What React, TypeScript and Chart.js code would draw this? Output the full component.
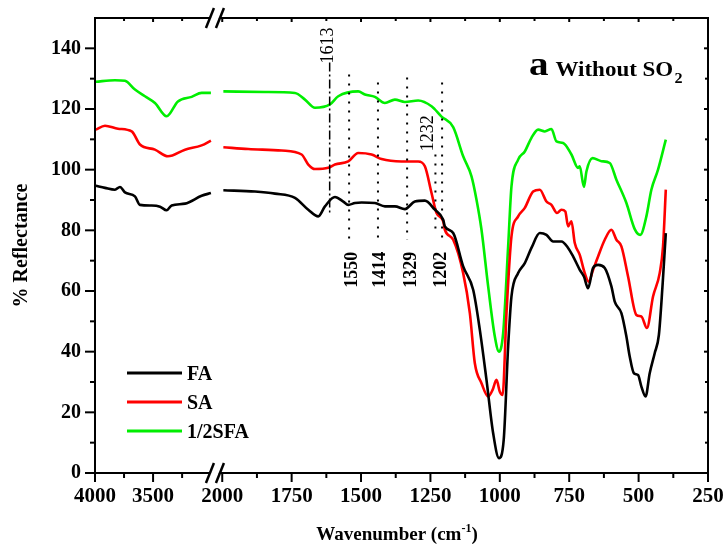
import React, { useEffect, useRef } from 'react';
import { Chart, registerables } from 'chart.js';

Chart.register(...registerables);

// ---------- DATA (wavenumber in cm-1, % reflectance) ----------
const FA_WN = [3994, 3914, 3828, 3785, 3742, 3656, 3613, 3512, 3440, 3383, 3340, 3225, 3082, 3002,
  1996, 1882, 1810, 1738, 1690, 1654, 1630, 1594, 1564, 1546, 1522, 1498, 1450, 1414, 1378, 1342, 1306, 1270, 1234, 1204,
  1198, 1168, 1132, 1096, 1072, 1048, 1024, 1003, 986, 970, 958, 934, 910, 886, 856, 832, 808, 778, 754, 736,
  712, 697, 682, 664, 646, 622, 598, 586, 562, 544, 532, 517, 502, 490, 475, 460, 442, 427, 414, 402];
const FA_R = [94.7, 94.0, 93.4, 94.3, 92.5, 91.2, 88.4, 88.2, 87.8, 86.6, 88.2, 88.8, 91.4, 92.3,
  93.2, 92.8, 92.1, 90.7, 86.8, 84.6, 87.9, 91.0, 89.5, 88.4, 89.0, 89.2, 89.0, 87.9, 87.9, 87.0, 89.5, 89.8, 86.8, 83.5,
  81.3, 79.1, 68.1, 60.4, 47.2, 30.7, 13.1, 4.9, 10.9, 41.7, 58.2, 65.9, 69.2, 74.2, 79.1, 78.5, 76.3, 76.3, 74.2, 71.4,
  67.0, 64.8, 60.9, 67.6, 68.6, 67.6, 61.5, 56.5, 52.7, 45.0, 38.4, 32.9, 32.3, 28.5, 25.2, 32.9, 39.5, 45.5, 61.5, 79.1];

const SA_WN = [3994, 3914, 3802, 3684, 3613, 3484, 3372, 3225, 3082, 3002,
  1996, 1906, 1786, 1714, 1690, 1666, 1618, 1594, 1546, 1510, 1462, 1426, 1354, 1294, 1270, 1246, 1228, 1204, 1198, 1168,
  1132, 1108, 1090, 1066, 1042, 1026, 1012, 1000, 990, 976, 958, 934, 910, 880, 856, 832, 814, 794, 778, 764,
  754, 742, 730, 712, 694, 680, 664, 646, 622, 598, 580, 562, 538, 508, 490, 470, 448, 424, 412, 402];
const SA_R = [113.2, 114.5, 113.5, 112.6, 108.3, 106.6, 104.4, 106.6, 108.0, 109.6,
  107.4, 106.8, 106.3, 105.0, 101.7, 100.2, 100.6, 101.7, 102.7, 105.5, 105.0, 103.5, 102.7, 102.7, 101.1, 92.3, 85.7, 83.0, 80.2, 76.9,
  65.9, 52.7, 36.2, 29.6, 25.2, 27.4, 30.7, 26.8, 25.7, 52.7, 78.0, 84.6, 87.4, 92.8, 93.4, 89.5, 88.4, 85.7, 86.8, 86.2,
  81.3, 83.0, 75.8, 71.9, 65.9, 63.1, 67.0, 71.4, 76.9, 80.2, 76.9, 74.7, 64.8, 52.1, 51.6, 47.8, 58.2, 65.9, 74.7, 93.4];

const SFA_WN = [3994, 3828, 3742, 3656, 3570, 3484, 3383, 3286, 3168, 3082, 3002,
  1996, 1846, 1738, 1702, 1666, 1612, 1582, 1510, 1486, 1450, 1414, 1378, 1342, 1294, 1246, 1210, 1168, 1132, 1102, 1084,
  1066, 1042, 1018, 1003, 988, 970, 958, 934, 910, 886, 862, 838, 814, 796, 772, 742, 718, 712, 697, 688,
  666, 634, 604, 580, 544, 514, 494, 472, 454, 430, 402];
const SFA_R = [129.0, 129.5, 129.3, 126.4, 124.2, 122.0, 117.6, 122.5, 124.0, 125.3, 125.3,
  125.8, 125.6, 125.3, 123.1, 120.4, 121.5, 124.2, 125.8, 124.8, 124.0, 122.0, 123.1, 122.3, 122.8, 120.9, 117.5, 114.0, 104.4, 97.8, 90.1,
  80.2, 61.5, 45.0, 40.0, 46.1, 74.7, 94.5, 103.3, 106.0, 110.5, 113.2, 112.6, 113.4, 109.3, 108.8, 105.0, 100.6, 101.1, 94.3, 99.4,
  103.8, 102.8, 102.2, 96.7, 89.0, 80.4, 78.5, 84.6, 93.4, 100.0, 109.9];

const SERIES_LABELS = ['FA', 'SA', '1/2SFA'];
const SERIES_COLORS = ['#000000', '#ff0000', '#00ee00'];

const X_MAJOR = [4000, 3500, 2000, 1750, 1500, 1250, 1000, 750, 500, 250];
const X_MINOR = [3750, 3250, 1875, 1625, 1375, 1125, 875, 625, 375];
const Y_MAJOR = [0, 20, 40, 60, 80, 100, 120, 140];
const Y_MINOR = [10, 30, 50, 70, 90, 110, 130];

// peak annotations: label, line position (cm-1), line range (%R), label position
const PEAKS = [
  { label: '1613', wn: 1613, y0: 135.3, y1: 85.8, lwn: 1618, ly: 140.9, dash: 'dashdot', bold: false },
  { label: '1550', wn: 1543, y0: 131.4, y1: 76.2, lwn: 1531, ly: 67, dash: 'dot', bold: true },
  { label: '1414', wn: 1439, y0: 128.7, y1: 76.2, lwn: 1432, ly: 67, dash: 'dot', bold: true },
  { label: '1329', wn: 1334, y0: 130.4, y1: 76.9, lwn: 1320, ly: 67, dash: 'dot', bold: true },
  { label: '1202', wn: 1208, y0: 128.7, y1: 76.2, lwn: 1210, ly: 67, dash: 'dot', bold: true },
  { label: '1232', wn: 1232, y0: 105, y1: 78.5, lwn: 1259, ly: 112, dash: 'dot', bold: false },
];

// ---------- broken axis mapping ----------
const LEFT_K = 0.1162;   // compressed 4000-3000 segment
const RIGHT_K = 0.2777;  // 2000-250 segment
const RIGHT_OFF = 127.3;
const u = (wn: number) => (wn > 2500 ? (4000 - wn) * LEFT_K : RIGHT_OFF + (2000 - wn) * RIGHT_K);
const U_MAX = u(250);
const BREAK_U = 120;

const SERIF = "'Liberation Serif', 'Times New Roman', serif";

function buildPoints(wn: number[], r: number[]) {
  const pts: { x: number; y: number | null }[] = [];
  for (let i = 0; i < wn.length; i++) {
    if (i > 0 && wn[i - 1] > 2500 && wn[i] <= 2500) {
      pts.push({ x: (u(wn[i - 1]) + u(wn[i])) / 2, y: null });
    }
    pts.push({ x: u(wn[i]), y: r[i] });
  }
  return pts;
}

const decorPlugin = {
  id: 'decor',
  afterDatasetsDraw(chart: any) {
    const { ctx, chartArea: a, scales } = chart;
    const x = scales.x;
    const y = scales.y;
    ctx.save();
    ctx.strokeStyle = '#000';
    ctx.fillStyle = '#000';
    ctx.lineCap = 'butt';

    // frame
    ctx.lineWidth = 2;
    ctx.strokeRect(a.left, a.top, a.right - a.left, a.bottom - a.top);

    const tick = (px: number, py: number, dx: number, dy: number) => {
      ctx.beginPath();
      ctx.moveTo(px, py);
      ctx.lineTo(px + dx, py + dy);
      ctx.stroke();
    };
    X_MAJOR.forEach((w) => {
      const px = x.getPixelForValue(u(w));
      tick(px, a.bottom, 0, 9);
      tick(px, a.top, 0, 4);
    });
    X_MINOR.forEach((w) => {
      const px = x.getPixelForValue(u(w));
      tick(px, a.bottom, 0, 5);
      tick(px, a.top, 0, 3);
    });
    Y_MAJOR.forEach((v) => {
      const py = y.getPixelForValue(v);
      tick(a.left, py, -10, 0);
      tick(a.right, py, -4, 0);
    });
    Y_MINOR.forEach((v) => {
      const py = y.getPixelForValue(v);
      tick(a.left, py, -5, 0);
      tick(a.right, py, -3, 0);
    });

    // axis break marks
    const bx = x.getPixelForValue(BREAK_U);
    [a.top, a.bottom].forEach((ay) => {
      ctx.fillStyle = '#fff';
      ctx.beginPath();
      ctx.moveTo(bx - 5, ay + 3);
      ctx.lineTo(bx + 3, ay + 3);
      ctx.lineTo(bx + 5, ay - 3);
      ctx.lineTo(bx - 3, ay - 3);
      ctx.closePath();
      ctx.fill();
      ctx.lineWidth = 2.5;
      ctx.strokeStyle = '#000';
      tick(bx - 9, ay + 10, 8, -20);
      tick(bx + 1, ay + 10, 8, -20);
    });

    // peak annotations
    PEAKS.forEach((p) => {
      const px = x.getPixelForValue(u(p.wn));
      ctx.strokeStyle = '#000';
      ctx.setLineDash(p.dash === 'dot' ? [2, 7] : [9, 3, 2, 3]);
      ctx.lineWidth = p.dash === 'dot' ? 2 : 1.5;
      ctx.beginPath();
      ctx.moveTo(px, y.getPixelForValue(p.y0));
      ctx.lineTo(px, y.getPixelForValue(p.y1));
      ctx.stroke();
      ctx.setLineDash([]);
      const lx = x.getPixelForValue(u(p.lwn));
      const ly = y.getPixelForValue(p.ly);
      ctx.save();
      ctx.translate(lx, ly);
      ctx.rotate(-Math.PI / 2);
      ctx.fillStyle = '#000';
      ctx.font = `${p.bold ? 'bold ' : ''}18px ${SERIF}`;
      ctx.textAlign = 'center';
      ctx.textBaseline = 'middle';
      ctx.fillText(p.label, 0, 0);
      ctx.restore();
    });

    // legend
    ctx.setLineDash([]);
    chart.data.datasets.forEach((ds: any, i: number) => {
      const ly = 373 + i * 29;
      ctx.strokeStyle = ds.borderColor;
      ctx.lineWidth = 3;
      ctx.beginPath();
      ctx.moveTo(127, ly);
      ctx.lineTo(182, ly);
      ctx.stroke();
      ctx.fillStyle = '#000';
      ctx.font = `bold 20px ${SERIF}`;
      ctx.textAlign = 'left';
      ctx.textBaseline = 'alphabetic';
      ctx.fillText(ds.label, 187, ly + 7);
    });

    // panel title (horizontally stretched like the source)
    ctx.fillStyle = '#000';
    ctx.textAlign = 'left';
    ctx.textBaseline = 'alphabetic';
    ctx.save();
    ctx.translate(529, 0);
    ctx.scale(1.15, 1);
    ctx.font = `bold 34px ${SERIF}`;
    ctx.fillText('a', 0, 75);
    const aw = ctx.measureText('a').width;
    ctx.font = `bold 20px ${SERIF}`;
    const wx = aw + 6;
    ctx.fillText('Without SO', wx, 76);
    const w1 = ctx.measureText('Without SO').width;
    ctx.font = `bold 14px ${SERIF}`;
    ctx.fillText('2', wx + w1 + 1, 83);
    ctx.restore();

    // x axis title with superscript
    const main = 'Wavenumber (cm';
    ctx.font = `bold 19px ${SERIF}`;
    const mw = ctx.measureText(main).width;
    const pw = ctx.measureText(')').width;
    ctx.font = `bold 12px ${SERIF}`;
    const sw = ctx.measureText('-1').width;
    const total = mw + sw + pw;
    let tx = 397 - total / 2;
    const base = 540;
    ctx.font = `bold 19px ${SERIF}`;
    ctx.fillText(main, tx, base);
    tx += mw;
    ctx.font = `bold 12px ${SERIF}`;
    ctx.fillText('-1', tx, base - 8);
    tx += sw;
    ctx.font = `bold 19px ${SERIF}`;
    ctx.fillText(')', tx, base);

    ctx.restore();
  },
};

export default function App() {
  const ref = useRef<HTMLCanvasElement | null>(null);

  useEffect(() => {
    if (!ref.current) return;
    const series = [
      [FA_WN, FA_R],
      [SA_WN, SA_R],
      [SFA_WN, SFA_R],
    ];
    const chart = new Chart(ref.current, {
      type: 'line',
      data: {
        datasets: series.map(([wn, r], i) => ({
          label: SERIES_LABELS[i],
          data: buildPoints(wn, r),
          borderColor: SERIES_COLORS[i],
          backgroundColor: SERIES_COLORS[i],
          borderWidth: 2.6,
          pointRadius: 0,
          spanGaps: false,
          cubicInterpolationMode: 'monotone',
          fill: false,
        })),
      },
      options: {
        responsive: false,
        animation: false,
        layout: { padding: { top: 18, right: 16, left: 0, bottom: 0 } },
        plugins: { legend: { display: false }, tooltip: { enabled: false } },
        scales: {
          x: {
            type: 'linear',
            position: 'bottom',
            min: 0,
            max: U_MAX,
            afterBuildTicks: (s: any) => {
              s.ticks = X_MAJOR.map((w) => ({ value: u(w) }));
            },
            afterFit: (s: any) => {
              s.height = 74;
              s.paddingLeft = 0;
              s.paddingRight = 0;
            },
            ticks: {
              autoSkip: false,
              maxRotation: 0,
              minRotation: 0,
              padding: 11,
              color: '#000',
              font: { family: SERIF, size: 21, weight: 'bold' },
              callback: (_v: any, i: number) => String(X_MAJOR[i]),
            },
            grid: { display: false, drawTicks: false },
            border: { display: false },
          },
          y: {
            type: 'linear',
            min: 0,
            max: 150,
            afterBuildTicks: (s: any) => {
              s.ticks = Y_MAJOR.map((v) => ({ value: v }));
            },
            afterFit: (s: any) => {
              s.width = 95;
              s.paddingTop = 0;
              s.paddingBottom = 0;
            },
            ticks: {
              padding: 14,
              color: '#000',
              font: { family: SERIF, size: 20, weight: 'bold' },
              callback: (v: any) => String(v),
            },
            title: {
              display: true,
              text: '% Reflectance',
              color: '#000',
              font: { family: SERIF, size: 20, weight: 'bold' },
              padding: { top: 10, bottom: 0 },
            },
            grid: { display: false, drawTicks: false },
            border: { display: false },
          },
        },
      },
      plugins: [decorPlugin],
    } as any);
    return () => chart.destroy();
  }, []);

  return (
    <div style={{ position: 'fixed', left: 0, top: 0, width: 724, height: 547, background: '#fff' }}>
      <canvas ref={ref} width={724} height={547} style={{ width: 724, height: 547, display: 'block' }} />
    </div>
  );
}
